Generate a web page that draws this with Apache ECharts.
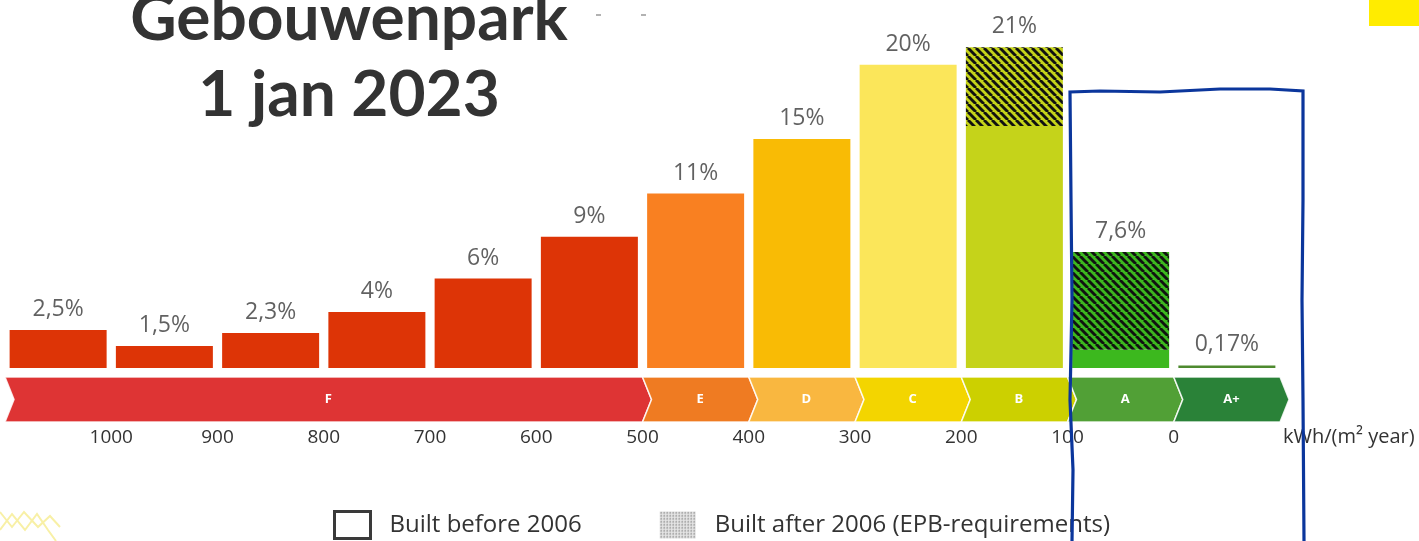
<!DOCTYPE html>
<html>
<head>
<meta charset="utf-8">
<script src="https://cdn.jsdelivr.net/npm/echarts/dist/echarts.min.js"></script>
<style>html,body{margin:0;padding:0;background:#fff}#c{width:1419px;height:541px}</style>
</head>
<body>
<div id="c"></div>
<script>
// ---- data ----
const categories = ['1000-1100','900-1000','800-900','700-800','600-700','500-600','400-500','300-400','200-300','100-200','0-100','<0'];
const builtBefore = [2.5, 1.45, 2.3, 3.7, 5.9, 8.65, 11.5, 15.1, 20.0, 15.95, 1.2, 0.17];
const builtAfter  = [0, 0, 0, 0, 0, 0, 0, 0, 0, 5.2, 6.45, 0];
const barLabels   = ['2,5%','1,5%','2,3%','4%','6%','9%','11%','15%','20%','21%','7,6%','0,17%'];
const classLabels = ['F','E','D','C','B','A','A+'];
const classBounds = [1100, 500, 400, 300, 200, 100, 0, -100]; // kWh/(m² year)
const seriesNames = ['Built before 2006', 'Built after 2006 (EPB-requirements)'];
const axisName = 'kWh/(m² year)';
const titleText = 'Gebouwenpark\n1 jan 2023';

// ---- styles ----
const barColors  = ['#dd3406','#dd3406','#dd3406','#dd3406','#dd3406','#dd3406','#f98021','#f9bb05','#fbe65a','#c5d31a','#3cb81e','#4e8a2f'];
const bandColors = ['#de3434','#ef7b22','#f9b740','#f3d500','#ccd000','#51a036','#2a8238'];
const FONT = '"Open Sans", sans-serif';

function stripes(color){
  const p = 8, c = document.createElement('canvas');
  c.width = p; c.height = p;
  const g = c.getContext('2d');
  g.fillStyle = color; g.fillRect(0,0,p,p);
  g.strokeStyle = '#111'; g.lineWidth = 2.9;
  for (let k = -1; k <= 1; k++) { g.beginPath(); g.moveTo(k*p, 0); g.lineTo(k*p + p, p); g.stroke(); }
  return { image: c, repeat: 'repeat' };
}
function dotted(){
  const c = document.createElement('canvas'); c.width = 3; c.height = 3;
  const g = c.getContext('2d');
  g.fillStyle = '#e4e4e4'; g.fillRect(0,0,3,3);
  g.fillStyle = '#7a7a7a'; g.fillRect(1,1,1,1);
  g.fillStyle = '#bdbdbd'; g.fillRect(0,1,1,1); g.fillRect(1,0,1,1);
  return { image: c, repeat: 'repeat' };
}

const totals = builtBefore.map((v,i) => v + builtAfter[i]);
const bandData = classLabels.map((l,i) => [-classBounds[i], -classBounds[i+1]]);

const chart = echarts.init(document.getElementById('c'));
chart.setOption({
  animation: false,
  backgroundColor: '#fff',
  title: {
    text: titleText, left: 344, top: -24, textAlign: 'center',
    textStyle: { fontFamily: 'Lato', fontWeight: 'bold', fontSize: 64, lineHeight: 76, color: '#333' }
  },
  legend: {
    left: 333, top: 510, padding: 0, itemWidth: 36, itemHeight: 27, itemGap: 78, selectedMode: false,
    textStyle: { fontFamily: FONT, fontSize: 24, color: '#333', padding: [0,0,0,14] },
    data: [
      { name: seriesNames[0], icon: 'rect', itemStyle: { color: '#fff', borderColor: '#3a3a3a', borderWidth: 3 } },
      { name: seriesNames[1], icon: 'rect', itemStyle: { color: dotted(), borderWidth: 0 } }
    ]
  },
  grid: [
    { left: 5, right: 139, top: 4, bottom: 173 },
    { left: 5, right: 139, top: 377, height: 45 }
  ],
  xAxis: [
    { type: 'category', gridIndex: 0, data: categories, show: false },
    { type: 'value', gridIndex: 1, min: -1100, max: 100, interval: 100,
      axisLine: { show: false }, axisTick: { show: false }, splitLine: { show: false },
      axisLabel: { margin: 6, fontFamily: FONT, fontSize: 19, color: '#333',
        formatter: v => (v >= -1000 && v <= 0) ? String(-v) : '' },
      name: axisName, nameLocation: 'end', nameGap: 3,
      nameTextStyle: { fontFamily: FONT, fontSize: 20, color: '#333', align: 'left', verticalAlign: 'top', padding: [5,0,0,0] }
    }
  ],
  yAxis: [
    { type: 'value', gridIndex: 0, min: 0, max: 24, show: false },
    { type: 'value', gridIndex: 1, min: 0, max: 1, show: false }
  ],
  series: [
    { name: seriesNames[0], type: 'bar', stack: 'b', barWidth: 97, xAxisIndex: 0, yAxisIndex: 0,
      data: builtBefore.map((v,i) => ({ value: v, itemStyle: { color: barColors[i] } })) },
    { name: seriesNames[1], type: 'bar', stack: 'b', barWidth: 97, xAxisIndex: 0, yAxisIndex: 0,
      data: builtAfter.map((v,i) => ({ value: v, itemStyle: { color: stripes(barColors[i]) } })) },
    { name: 'labels', type: 'scatter', xAxisIndex: 0, yAxisIndex: 0, symbolSize: 0, silent: true,
      data: totals,
      label: { show: true, position: 'top', distance: 9, fontFamily: FONT, fontSize: 23, color: '#3a3a3a',
        formatter: p => barLabels[p.dataIndex] } },
    { name: 'classes', type: 'custom', xAxisIndex: 1, yAxisIndex: 1, silent: true,
      data: bandData,
      renderItem: (params, api) => {
        const a = api.coord([api.value(0), 1]);
        const b = api.coord([api.value(1), 0]);
        const x0 = a[0], x1 = b[0], top = a[1], bot = b[1], mid = (top + bot) / 2, d = 9;
        const i = params.dataIndex;
        return {
          type: 'polygon',
          shape: { points: [[x0,top],[x1,top],[x1+d,mid],[x1,bot],[x0,bot],[x0+d,mid]] },
          style: { fill: bandColors[i], stroke: 'rgba(255,255,255,0.85)', lineWidth: 1.5 },
          textContent: { style: { text: classLabels[i], fill: '#fff', font: 'bold 13px ' + FONT } },
          textConfig: { position: 'inside' }
        };
      }
    }
  ],
  graphic: [
    { type: 'rect', shape: { x: 1369, y: 0, width: 50, height: 26 }, style: { fill: '#ffec00' } },
    { type: 'line', shape: { x1: 596, y1: 15, x2: 601, y2: 15 }, style: { stroke: '#999', lineWidth: 1.5 } },
    { type: 'line', shape: { x1: 641, y1: 15, x2: 646, y2: 15 }, style: { stroke: '#999', lineWidth: 1.5 } },
    { type: 'polyline', shape: { points: [[0,512],[12,527],[24,512],[38,527],[50,516],[60,527]] }, style: { stroke: '#f8f0a6', lineWidth: 2, fill: null } },
    { type: 'polyline', shape: { points: [[0,530],[12,514],[25,530],[37,514],[48,530],[56,541]] }, style: { stroke: '#f8f0a6', lineWidth: 2, fill: null } },
    { type: 'polyline', z: 100,
      shape: { points: [[1072,541],[1073,470],[1070,400],[1072,300],[1071,200],[1070,92],[1100,91],[1160,92],[1220,89],[1270,89],[1303,91],[1303,200],[1302,300],[1303,400],[1304,541]] },
      style: { stroke: '#0b369c', lineWidth: 3.2, fill: null } }
  ]
});
</script>
</body>
</html>
